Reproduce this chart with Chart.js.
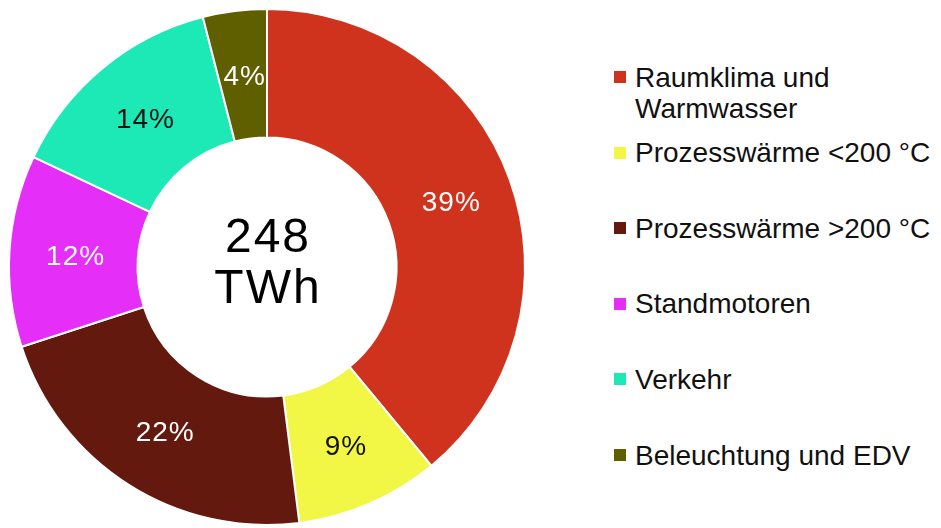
<!DOCTYPE html>
<html>
<head>
<meta charset="utf-8">
<script src="https://cdn.jsdelivr.net/npm/chart.js@4/dist/chart.umd.min.js"></script>
<style>
  html, body { margin: 0; padding: 0; background: #fff; }
  #wrap { position: relative; width: 941px; height: 528px; overflow: hidden; font-family: "Liberation Sans", Arial, Helvetica, sans-serif; }
  #chart { position: absolute; left: 0; top: 0; }
  .item { position: absolute; left: 614px; white-space: nowrap; }
  .item .box { position: absolute; left: 0; width: 12px; height: 12px; }
  .item .txt { position: absolute; left: 21px; font-size: 28px; line-height: 31px; color: #111; }
</style>
</head>
<body>
<div id="wrap">
  <canvas id="chart" width="530" height="528"></canvas>
  <div id="legend"></div>
</div>
<script>
const categories = [
    ['Raumklima und', 'Warmwasser'],
    ['Prozesswärme <200 °C'],
    ['Prozesswärme >200 °C'],
    ['Standmotoren'],
    ['Verkehr'],
    ['Beleuchtung und EDV']
];
const shares = [39, 9, 22, 12, 14, 4];
const sliceColors = ['#D0331D', '#F2F645', '#64190E', '#E52EF7', '#1DE9B6', '#5F5F00'];
const labelColors = ['#fff', '#111', '#fff', '#fff', '#111', '#fff'];
const centerLines = ['248', 'TWh'];

// html legend, one row per category
const legendDiv = document.getElementById('legend');
categories.forEach((lines, i) => {
    const mid = 77 + i * 75.6;
    const item = document.createElement('div');
    item.className = 'item';
    item.style.top = (mid - 15.5) + 'px';
    item.innerHTML = `<div class="box" style="top:${15.5 - 6}px;background:${sliceColors[i]}"></div>` +
        `<div class="txt">${lines.map(l => l.replace(/</g, '&lt;').replace(/>/g, '&gt;')).join('<br>')}</div>`;
    legendDiv.appendChild(item);
});

const sliceLabels = {
    id: 'sliceLabels',
    afterDatasetsDraw(chart) {
        const ctx = chart.ctx;
        const arcs = chart.getDatasetMeta(0).data;
        ctx.save();
        ctx.textAlign = 'center';
        ctx.textBaseline = 'alphabetic';
        ctx.font = '28px "Liberation Sans", Arial, sans-serif';
        ctx.letterSpacing = '1px';
        arcs.forEach((arc, i) => {
            const p = arc.getCenterPoint();
            ctx.fillStyle = labelColors[i];
            ctx.fillText(shares[i] + '%', p.x + 2, p.y + 10);
        });
        // total in the hole
        const c = arcs[0];
        ctx.fillStyle = '#000';
        ctx.font = '48px "Liberation Sans", Arial, sans-serif';
        ctx.letterSpacing = '2px';
        ctx.fillText(centerLines[0], c.x + 1, c.y - 15);
        ctx.fillText(centerLines[1], c.x + 1, c.y + 36);
        ctx.restore();
    }
};

new Chart(document.getElementById('chart').getContext('2d'), {
    type: 'doughnut',
    data: {
        labels: categories.map(l => l.join(' ')),
        datasets: [{
            data: shares,
            backgroundColor: sliceColors,
            borderColor: '#fff',
            borderWidth: 2
        }]
    },
    options: {
        responsive: false,
        animation: false,
        cutout: '50.2%',
        layout: { padding: { left: 8, right: 4, top: 8, bottom: 2 } },
        plugins: {
            legend: { display: false },
            tooltip: { enabled: false }
        }
    },
    plugins: [sliceLabels]
});
</script>
</body>
</html>
